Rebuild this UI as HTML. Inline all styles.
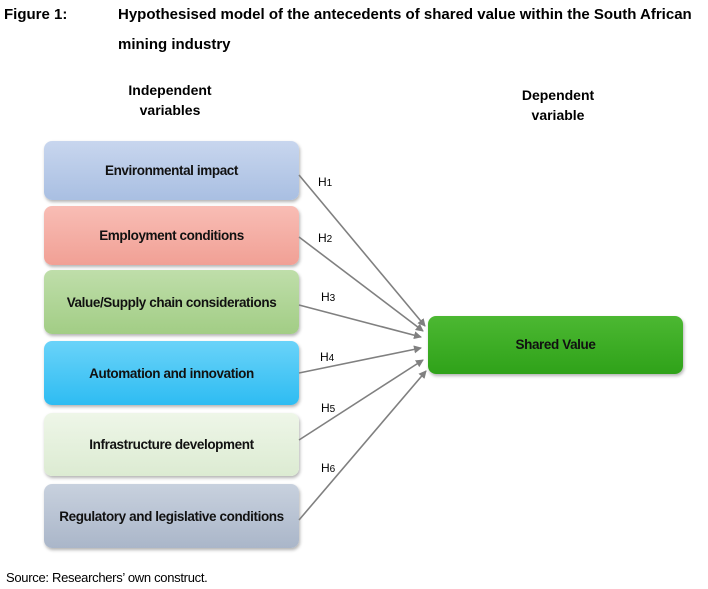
<!DOCTYPE html><html><head><style>
body{margin:0;width:708px;height:589px;background:#fff;font-family:"Liberation Sans",Arial,sans-serif;position:relative;overflow:hidden}
.t{position:absolute;font-weight:bold;font-size:15px;color:#000}
.b{position:absolute;left:44px;width:255px;border-radius:8px;display:flex;align-items:center;justify-content:center;font-weight:bold;font-size:13.5px;color:#111;box-shadow:1px 2px 3px rgba(0,0,0,.3);letter-spacing:-0.4px}
.h{position:absolute;font-size:12px;color:#000}
</style></head><body>
<div class="t" style="left:4px;top:6px">Figure 1:</div>
<div class="t" style="left:118px;top:6px">Hypothesised model of the antecedents of shared value within the South African</div>
<div class="t" style="left:118px;top:36px">mining industry</div>
<div style="position:absolute;left:100px;top:80px;width:140px;text-align:center;font-weight:bold;font-size:14px;line-height:20px">Independent<br>variables</div>
<div style="position:absolute;left:488px;top:85px;width:140px;text-align:center;font-weight:bold;font-size:14px;line-height:20px">Dependent<br>variable</div>
<div class="b" style="top:141px;height:59px;background:linear-gradient(#c8d6ee,#a9bfe2)">Environmental impact</div>
<div class="b" style="top:206px;height:59px;background:linear-gradient(#f8bdb5,#f1a095)">Employment conditions</div>
<div class="b" style="top:270px;height:64px;background:linear-gradient(#bfdeaa,#a2cd85)">Value/Supply chain considerations</div>
<div class="b" style="top:341px;height:64px;background:linear-gradient(#6ad3f9,#2ebcf2)">Automation and innovation</div>
<div class="b" style="top:413px;height:63px;background:linear-gradient(#eef6e8,#dcebd2)">Infrastructure development</div>
<div class="b" style="top:484px;height:64px;background:linear-gradient(#c8d1de,#aab6c9)">Regulatory and legislative conditions</div>
<div class="b" style="left:428px;top:316px;height:58px;background:linear-gradient(#4cb832,#2fa219);padding-bottom:2px;box-sizing:border-box">Shared Value</div>
<svg style="position:absolute;left:0;top:0" width="708" height="589">
<defs><marker id="a" markerWidth="8" markerHeight="8" refX="7" refY="4" orient="auto" markerUnits="userSpaceOnUse"><path d="M0,0L8,4L0,8z" fill="#808080"/></marker></defs>
<g stroke="#808080" stroke-width="1.6" marker-end="url(#a)">
<line x1="299" y1="175" x2="425" y2="326"/>
<line x1="299" y1="237" x2="423" y2="331"/>
<line x1="299" y1="305" x2="421" y2="337"/>
<line x1="299" y1="373" x2="421" y2="348"/>
<line x1="299" y1="440" x2="423" y2="360"/>
<line x1="299" y1="520" x2="426" y2="371"/>
</g></svg>
<div class="h" style="left:318px;top:175px">H<small>1</small></div>
<div class="h" style="left:318px;top:231px">H<small>2</small></div>
<div class="h" style="left:321px;top:290px">H<small>3</small></div>
<div class="h" style="left:320px;top:350px">H<small>4</small></div>
<div class="h" style="left:321px;top:401px">H<small>5</small></div>
<div class="h" style="left:321px;top:461px">H<small>6</small></div>
<div style="position:absolute;left:6px;top:570px;font-size:13px;letter-spacing:-0.3px">Source: Researchers’ own construct.</div>
</body></html>
